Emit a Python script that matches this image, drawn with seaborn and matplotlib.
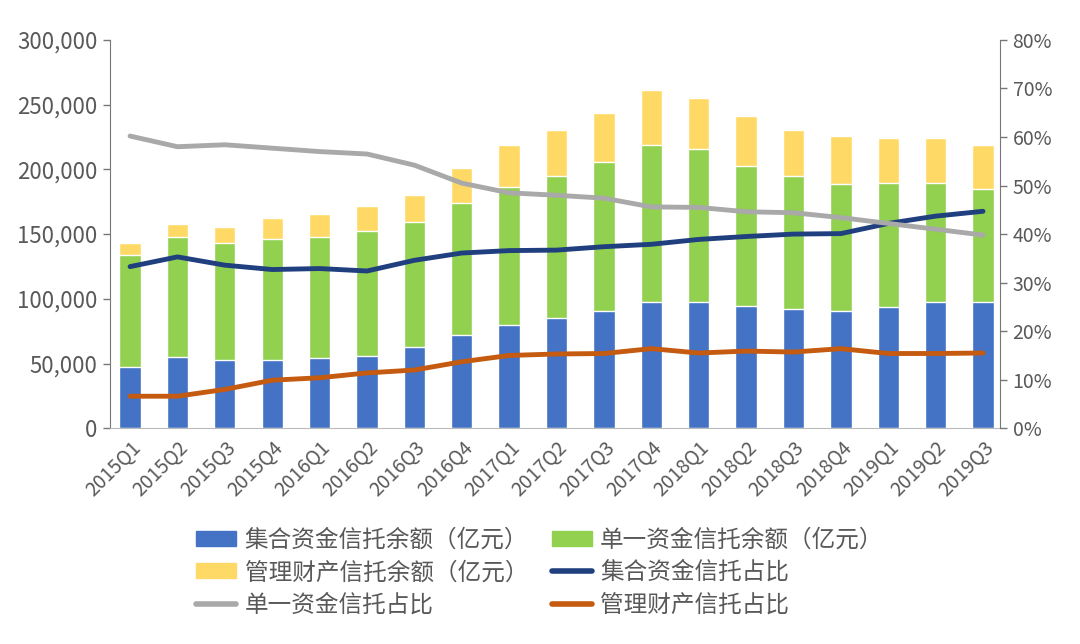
import pandas as pd
import numpy as np
import seaborn as sns
import matplotlib.pyplot as plt
from matplotlib.ticker import FuncFormatter, PercentFormatter
from matplotlib.patches import Patch
from matplotlib.lines import Line2D

quarters = ['2015Q1', '2015Q2', '2015Q3', '2015Q4', '2016Q1', '2016Q2', '2016Q3', '2016Q4',
            '2017Q1', '2017Q2', '2017Q3', '2017Q4', '2018Q1', '2018Q2', '2018Q3', '2018Q4',
            '2019Q1', '2019Q2', '2019Q3']
# 余额（亿元）
jihe = [47400, 55100, 52600, 52600, 54100, 55700, 62900, 71900, 79600, 84800, 90500, 97700,
        97700, 94600, 91800, 90500, 93800, 97700, 97700]
danyi = [86400, 92300, 90700, 93800, 93800, 96900, 96600, 102300, 106500, 110000, 115400, 121100,
         117800, 108000, 103000, 98200, 95400, 92000, 86900]
guanli = [9200, 10300, 11900, 15700, 17300, 19100, 20700, 26600, 32700, 35600, 37400, 42500,
          39300, 38600, 35600, 37100, 34800, 34300, 34000]
# 占比（%）
jihe_pct = [33.3, 35.3, 33.6, 32.7, 32.9, 32.4, 34.6, 36.1, 36.6, 36.7, 37.4, 37.9,
            38.9, 39.5, 40.0, 40.1, 42.2, 43.7, 44.7]
danyi_pct = [60.2, 58.0, 58.4, 57.7, 57.0, 56.5, 54.2, 50.5, 48.5, 48.0, 47.4, 45.6,
             45.5, 44.6, 44.4, 43.4, 42.2, 41.0, 39.8]
guanli_pct = [6.6, 6.6, 8.0, 9.9, 10.4, 11.4, 12.0, 13.7, 15.0, 15.3, 15.4, 16.4,
              15.5, 15.9, 15.7, 16.4, 15.4, 15.4, 15.5]

df = pd.DataFrame({'quarter': quarters, 'jihe': jihe, 'danyi': danyi, 'guanli': guanli})
df['s2'] = df['jihe'] + df['danyi']
df['s3'] = df['s2'] + df['guanli']

sns.set_style('white')
plt.rcParams['font.family'] = ['Noto Sans CJK SC', 'DejaVu Sans']

c_blue = '#4472C4'
c_green = '#92D050'
c_yellow = '#FFD966'
c_navy = '#203F7E'
c_gray = '#A9A9A9'
c_orange = '#C55A11'
txt = '#595959'

fig = plt.figure(figsize=(10.8, 6.44), dpi=100)
ax = fig.add_axes([0.102, 0.335, 0.824, 0.603])

for col, c in [('s3', c_yellow), ('s2', c_green), ('jihe', c_blue)]:
    sns.barplot(data=df, x='quarter', y=col, color=c, width=0.45, saturation=1,
                edgecolor='white', linewidth=1, ax=ax)

ax.set_ylim(0, 300000)
ax.set_xlim(-0.42, 18.36)
ax.set_yticks(np.arange(0, 300001, 50000))
ax.yaxis.set_major_formatter(FuncFormatter(lambda v, p: f'{int(v):,}'))
ax.set_xlabel('')
ax.set_ylabel('')
ax.tick_params(axis='y', direction='out', length=5, width=1, color='#777777',
               labelsize=16, labelcolor=txt, pad=4)
ax.tick_params(axis='x', length=0, labelsize=14, labelcolor=txt, pad=6)
plt.setp(ax.get_xticklabels(), rotation=45, ha='right', rotation_mode='anchor')
for s in ['top', 'right']:
    ax.spines[s].set_visible(False)
ax.spines['left'].set_color('#777777')
ax.spines['bottom'].set_color('#BBBBBB')

ax2 = ax.twinx()
xs = np.arange(len(quarters))
sns.lineplot(x=xs, y=jihe_pct, color=c_navy, linewidth=3.5, ax=ax2)
sns.lineplot(x=xs, y=danyi_pct, color=c_gray, linewidth=3.5, ax=ax2)
sns.lineplot(x=xs, y=guanli_pct, color=c_orange, linewidth=3.5, ax=ax2)
ax2.set_ylim(0, 80)
ax2.set_yticks(np.arange(0, 81, 10))
ax2.yaxis.set_major_formatter(PercentFormatter(decimals=0))
ax2.tick_params(axis='y', direction='out', length=5, width=1, color='#777777',
                labelsize=14, labelcolor=txt, pad=4)
for s in ['top', 'left', 'bottom']:
    ax2.spines[s].set_visible(False)
ax2.spines['right'].set_color('#777777')
ax2.set_xlim(-0.42, 18.36)

handles = [Patch(color=c_blue), Patch(color=c_yellow), Line2D([], [], color=c_gray, lw=4),
           Patch(color=c_green), Line2D([], [], color=c_navy, lw=4), Line2D([], [], color=c_orange, lw=4)]
labels = ['集合资金信托余额（亿元）', '管理财产信托余额（亿元）', '单一资金信托占比',
          '单一资金信托余额（亿元）', '集合资金信托占比', '管理财产信托占比']
leg = fig.legend(handles, labels, ncol=2, loc='upper center', bbox_to_anchor=(0.5, 0.212),
                 frameon=False, fontsize=17, handlelength=1.7, handleheight=0.6,
                 columnspacing=1.0, labelspacing=0.4, handletextpad=0.35)
for t in leg.get_texts():
    t.set_color(txt)

fig.savefig('out.png', dpi=100)
